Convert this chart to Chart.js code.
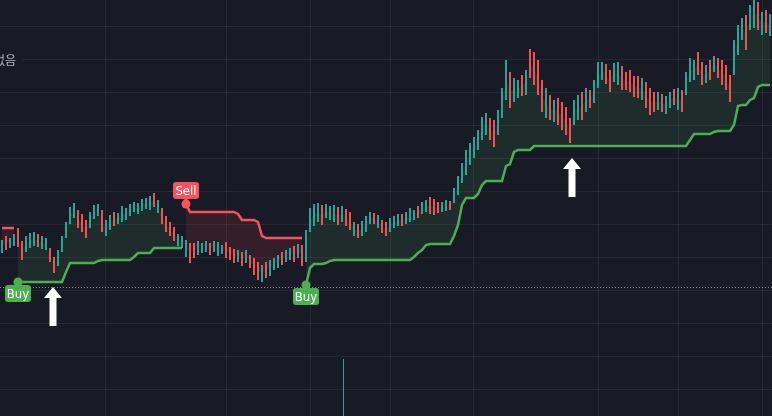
<!DOCTYPE html>
<html lang="ko">
<head>
<meta charset="UTF-8" />
<title>Supertrend</title>
<script src="https://cdn.jsdelivr.net/npm/chart.js"></script>
<style>
  html, body { margin: 0; padding: 0; background: #181b26; }
  canvas { display: block; }
</style>
</head>
<body>
<canvas id="chart" width="772" height="416"></canvas>
<script>
  // bar highs / lows (price units)
  const highs = [
    176,180,178,182,188,175,180,183,184,182,
    180,178,168,159,166,180,194,209,213,206,
    202,196,204,211,212,206,196,201,204,203,
    210,208,212,214,213,217,218,220,223,216,
    208,200,194,189,182,180,176,173,173,175,
    173,175,173,175,174,171,174,169,167,166,
    164,166,161,158,154,151,154,156,158,161,
    164,166,168,170,172,171,186,208,212,213,
    211,212,210,211,209,210,207,204,194,192,
    195,200,204,203,201,196,194,198,200,202,
    202,204,208,206,210,214,216,219,217,214,
    214,216,215,228,240,253,266,273,279,286,
    299,303,298,296,306,328,356,344,338,336,
    341,346,367,364,356,336,328,321,316,318,
    314,309,298,316,321,324,328,326,336,354,
    354,352,346,353,354,350,344,346,340,340,
    338,334,328,324,324,322,320,324,327,328,
    326,344,358,356,364,354,351,356,360,358,
    356,351,341,376,391,398,401,411,416,414,
    404,406,402
  ];
  const lows = [
    163,166,168,170,169,156,164,168,170,169,
    167,166,154,143,150,164,178,192,198,188,
    184,178,188,197,200,184,180,186,190,192,
    194,196,200,204,202,205,207,206,209,203,
    192,184,180,175,170,168,159,153,158,161,
    163,164,161,164,160,162,158,156,153,154,
    150,153,148,141,136,134,138,140,146,148,
    151,154,156,154,158,150,154,184,190,194,
    191,198,196,194,191,194,190,186,180,178,
    180,184,192,192,188,183,180,184,188,190,
    190,192,194,196,198,202,204,202,201,203,
    204,205,206,213,221,233,241,251,258,266,
    276,281,276,269,281,298,316,308,314,318,
    320,321,338,331,321,304,298,296,294,291,
    286,281,273,291,296,296,304,308,313,328,
    336,332,324,334,331,326,326,324,319,318,
    316,308,301,304,306,304,302,308,311,306,
    304,321,334,336,341,331,333,336,344,338,
    331,326,314,341,361,376,366,386,388,386,
    381,383,380
  ];
  // bars that closed down
  const redBars = [1,4,5,9,12,13,19,20,21,25,28,38,40,41,42,43,47,48,52,56,57,58,60,62,63,64,66,70,73,75,
    80,84,86,87,89,93,95,96,100,104,107,108,109,112,122,123,127,130,132,133,134,135,137,139,140,141,142,
    145,147,151,152,155,156,157,158,159,161,162,163,165,168,170,174,175,177,179,180,181,182,186,189,191];

  // supertrend stop level
  const stopLine = [
    188,188,188,188,134,134,134,134,134,134,
    134,134,134,134,134,134,144,153,153,153,
    153,153,153,153,155,156,156,156,156,156,
    156,156,156,159,163,163,163,163,168,168,
    168,168,168,168,168,168,212,204,204,204,
    204,204,204,204,204,204,204,204,204,202,
    196,196,196,196,194,180,178,178,178,178,
    178,178,178,178,178,178,131,148,152,152,
    152,153,155,156,156,156,156,156,156,156,
    156,156,156,156,156,156,156,156,156,156,
    156,156,156,159,163,166,171,172,172,172,
    172,172,172,180,191,211,218,218,218,222,
    231,235,235,235,235,235,250,252,264,266,
    266,266,266,270,270,270,270,270,270,270,
    270,270,270,270,270,270,270,270,270,270,
    270,270,270,270,270,270,270,270,270,270,
    270,270,270,270,270,270,270,270,270,270,
    270,270,276,282,282,282,282,282,284,285,
    285,285,285,291,310,311,311,316,318,329,
    331,331,331
  ];
  const signals = [
    { at: 4, type: 'Buy' },
    { at: 46, type: 'Sell' },
    { at: 76, type: 'Buy' }
  ];

  const monthStarts = [26, 56, 77, 97, 118, 149, 169, 190];
  const gridLevels = [27, 60, 93, 126, 159, 192, 225, 258, 291, 324, 357, 390];
  const markLevel = 129;
  const arrowMarks = [{ at: 12.75, tip: 129 }, { at: 142.5, tip: 258 }];
  const volumeMark = { at: 85.25, value: 57 };
  const sideLabel = { text: '없음', level: 357 };

  const labels = highs.map((_, i) => i);

  const dirUp = highs.map((_, i) => {
    let up = signals[0].type !== 'Buy';
    signals.forEach(s => { if (i >= s.at) up = s.type === 'Buy'; });
    return up;
  });
  const mid = highs.map((h, i) => (h + lows[i]) / 2);
  const upLine = stopLine.map((v, i) => dirUp[i] ? v : null);
  const downLine = stopLine.map((v, i) => dirUp[i] ? null : v);
  const midUp = mid.map((v, i) => dirUp[i] ? v : null);
  const midDown = mid.map((v, i) => dirUp[i] ? null : v);

  const GREEN = '#4caf50', RED = '#f7525f';
  const gridColor = 'rgba(255,255,255,0.06)';

  const overlay = {
    id: 'overlay',
    afterDatasetsDraw(chart) {
      const { ctx, chartArea, scales: { x, y } } = chart;
      ctx.save();

      // dotted level line
      const ly = Math.round(y.getPixelForValue(markLevel)) + 0.5;
      ctx.strokeStyle = 'rgba(178,181,190,0.75)';
      ctx.lineWidth = 1;
      ctx.setLineDash([1, 2]);
      ctx.beginPath();
      ctx.moveTo(chartArea.left, ly);
      ctx.lineTo(chartArea.right, ly);
      ctx.stroke();
      ctx.setLineDash([]);

      // single volume tick
      const vx = Math.round(x.getPixelForValue(volumeMark.at)) + 0.5;
      ctx.strokeStyle = '#26a69a';
      ctx.beginPath();
      ctx.moveTo(vx, y.getPixelForValue(volumeMark.value));
      ctx.lineTo(vx, y.getPixelForValue(0));
      ctx.stroke();

      // buy / sell markers
      ctx.font = '13px "Liberation Sans Narrow", "DejaVu Sans Condensed", sans-serif';
      ctx.textAlign = 'center';
      ctx.textBaseline = 'middle';
      signals.forEach(s => {
        const buy = s.type === 'Buy';
        const col = buy ? GREEN : RED;
        const px = x.getPixelForValue(s.at);
        const py = y.getPixelForValue(stopLine[s.at]);
        const w = 26, h = 17;
        const top = buy ? py + 3 : py - 5 - h;
        ctx.fillStyle = col;
        ctx.beginPath();
        ctx.arc(px, py, 4.5, 0, Math.PI * 2);
        ctx.fill();
        ctx.beginPath();
        ctx.roundRect(px - w / 2, top, w, h, 3);
        ctx.fill();
        if (buy) ctx.fillRect(px - 1.5, py, 3, 4);
        else ctx.fillRect(px - 1.5, top + h - 1, 3, 5);
        ctx.fillStyle = '#ffffff';
        ctx.fillText(s.type, px, top + h / 2 + 1);
      });

      // white arrows
      ctx.fillStyle = '#ffffff';
      arrowMarks.forEach(a => {
        const ax = x.getPixelForValue(a.at);
        const ay = y.getPixelForValue(a.tip);
        ctx.beginPath();
        ctx.moveTo(ax, ay);
        ctx.lineTo(ax + 9, ay + 11);
        ctx.lineTo(ax + 3.5, ay + 11);
        ctx.lineTo(ax + 3.5, ay + 39);
        ctx.lineTo(ax - 3.5, ay + 39);
        ctx.lineTo(ax - 3.5, ay + 11);
        ctx.lineTo(ax - 9, ay + 11);
        ctx.closePath();
        ctx.fill();
      });

      // cut-off side label
      const sy = y.getPixelForValue(sideLabel.level);
      ctx.fillStyle = '#181b26';
      ctx.fillRect(0, sy - 8, 22, 17);
      ctx.fillStyle = '#b2b5be';
      ctx.font = '12px "Noto Sans CJK KR", sans-serif';
      ctx.textAlign = 'right';
      ctx.fillText(sideLabel.text, 16, sy + 1);

      ctx.restore();
    }
  };

  new Chart(document.getElementById('chart'), {
    type: 'bar',
    data: {
      labels,
      datasets: [
        {
          type: 'bar',
          data: highs.map((h, i) => [lows[i], h]),
          backgroundColor: highs.map((_, i) => redBars.includes(i) ? '#ef5350' : '#26a69a'),
          barPercentage: 0.5,
          categoryPercentage: 1,
          borderWidth: 0,
          order: 2
        },
        {
          type: 'line', data: upLine, borderColor: GREEN, borderWidth: 2.5,
          pointRadius: 0, fill: false, spanGaps: false, order: 1
        },
        {
          type: 'line', data: downLine, borderColor: RED, borderWidth: 2.5,
          pointRadius: 0, fill: false, spanGaps: false, order: 1
        },
        {
          type: 'line', data: midUp, borderColor: 'rgba(0,0,0,0)', borderWidth: 0, pointRadius: 0,
          fill: { target: 1, above: 'rgba(76,175,80,0.12)', below: 'rgba(76,175,80,0.12)' }, order: 3
        },
        {
          type: 'line', data: midDown, borderColor: 'rgba(0,0,0,0)', borderWidth: 0, pointRadius: 0,
          fill: { target: 2, above: 'rgba(242,54,69,0.13)', below: 'rgba(242,54,69,0.13)' }, order: 3
        }
      ]
    },
    options: {
      responsive: false,
      animation: false,
      layout: { padding: 0 },
      plugins: { legend: { display: false }, tooltip: { enabled: false } },
      scales: {
        x: {
          grid: {
            offset: false,
            drawTicks: false,
            color: c => monthStarts.includes(c.index) ? gridColor : 'rgba(0,0,0,0)'
          },
          ticks: { display: false },
          border: { display: false }
        },
        y: {
          min: 0,
          max: 416,
          afterBuildTicks: s => { s.ticks = gridLevels.map(v => ({ value: v })); },
          grid: { drawTicks: false, color: gridColor },
          ticks: { display: false },
          border: { display: false }
        }
      }
    },
    plugins: [overlay]
  });
</script>
</body>
</html>
